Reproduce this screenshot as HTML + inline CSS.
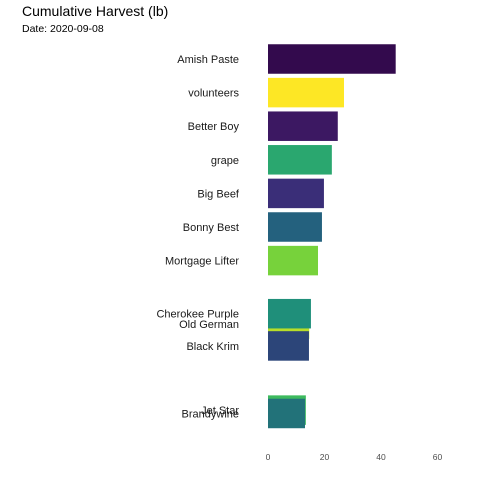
<!DOCTYPE html>
<html><head><meta charset="utf-8"><style>
html,body{margin:0;padding:0;background:#fff;}
svg{display:block;font-family:"Liberation Sans",Arial,sans-serif;}
</style></head><body>
<svg id="chart" width="480" height="480">
<text x="22" y="16" font-size="14" fill="#000">Cumulative Harvest (lb)</text>
<text x="22" y="32" font-size="10.5" fill="#000">Date: 2020-09-08</text>
<g id="bars"></g>
<g id="labels"></g>
<g id="ticks"></g>
</svg>
<script>
// draw order matters (later overlaps earlier)
const categories = ["Amish Paste","volunteers","Better Boy","grape","Big Beef","Bonny Best","Mortgage Lifter","Old German","Cherokee Purple","Black Krim","Jet Star","Brandywine"];
const values = [45.2,26.9,24.7,22.6,19.8,19.1,17.7,14.6,15.2,14.5,13.4,13.1];
const ranks = [0,1,2,3,4,5,6,7.89,7.58,8.54,10.45,10.55];
const colors = ["#330a4d","#fde725","#3c1862","#2aa76f","#3a2e78","#24617e","#77d23b","#b8de29","#1f8f7a","#2c4579","#3dba5e","#227279"];
const ticks = [0,20,40,60];

const NS="http://www.w3.org/2000/svg";
const x = v => 268 + v*2.825;
const y = r => 59 + r*33.6;
const bh = 29.5;
const gb=document.getElementById('bars'), gl=document.getElementById('labels'), gt=document.getElementById('ticks');
categories.forEach((c,i)=>{
  const r=document.createElementNS(NS,'rect');
  r.setAttribute('x',x(0)); r.setAttribute('y',y(ranks[i])-bh/2);
  r.setAttribute('width',x(values[i])-x(0)); r.setAttribute('height',bh);
  r.setAttribute('fill',colors[i]);
  
  
  gb.appendChild(r);
  const t=document.createElementNS(NS,'text');
  t.setAttribute('x',239); t.setAttribute('y',y(ranks[i])+4);
  t.setAttribute('text-anchor','end'); t.setAttribute('font-size','11');
  t.setAttribute('fill','#1a1a1a');
  t.textContent=c;
  
  
  gl.appendChild(t);
});
ticks.forEach(v=>{
  const t=document.createElementNS(NS,'text');
  t.setAttribute('x',x(v)); t.setAttribute('y',460);
  t.setAttribute('text-anchor','middle'); t.setAttribute('font-size','8.5');
  t.setAttribute('fill','#4d4d4d');
  t.textContent=v;
  
  
  gt.appendChild(t);
});
</script>
</body></html>
